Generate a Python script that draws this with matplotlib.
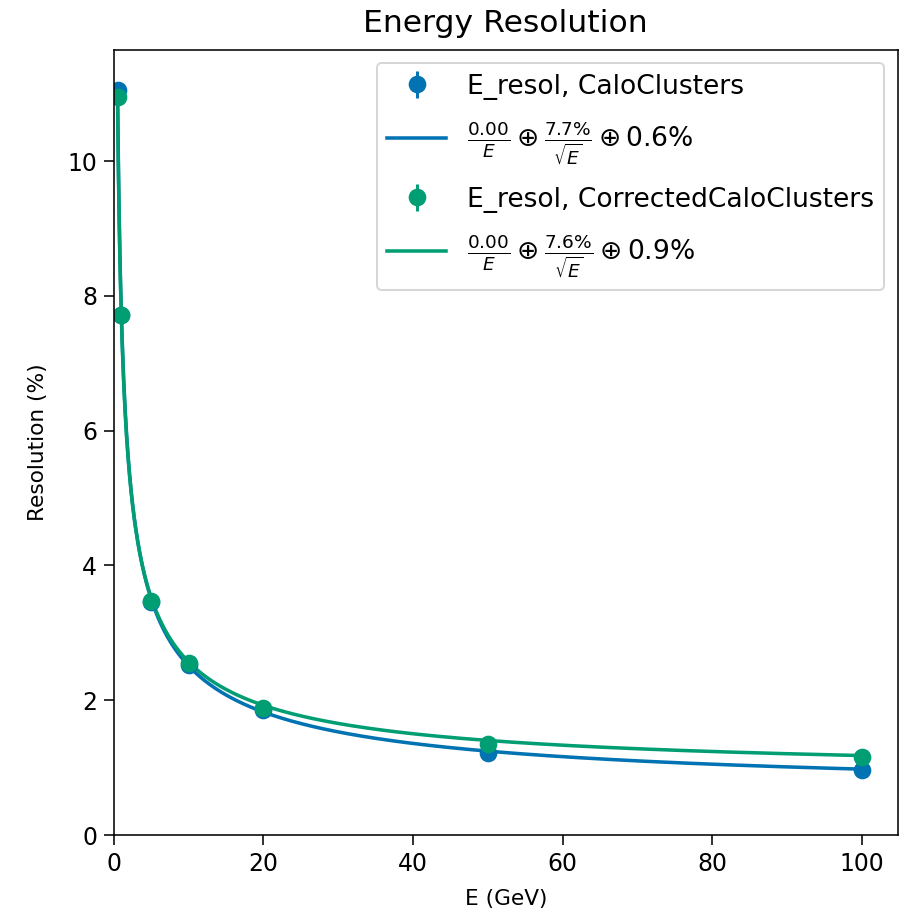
import numpy as np
import matplotlib.pyplot as plt

# energies (GeV) and measured resolution (%)
energies = [0.5, 1, 5, 10, 20, 50, 100]
resol_calo = [11.05, 7.72, 3.45, 2.52, 1.85, 1.22, 0.96]
resol_corr = [10.95, 7.72, 3.47, 2.55, 1.89, 1.35, 1.16]
err_calo = [0.08, 0.05, 0.03, 0.03, 0.02, 0.02, 0.02]
err_corr = [0.08, 0.05, 0.03, 0.03, 0.02, 0.02, 0.02]

# fit parameters: a/E (+) b/sqrt(E) (+) c
fit_calo = (0.00, 7.7, 0.6)
fit_corr = (0.00, 7.6, 0.9)

blue = '#0173b2'
green = '#029e73'


def resolution(e, a, b, c):
    return np.sqrt((a / e) ** 2 + b ** 2 / e + c ** 2)


fig = plt.figure(figsize=(6.4, 6.5), dpi=141.25)
ax = fig.add_axes([0.126, 0.0905, 0.867, 0.855])

e_line = np.linspace(0.5, 100, 1000)
handles = []
for vals, errs, fit, col, name in [(resol_calo, err_calo, fit_calo, blue, 'CaloClusters'),
                                   (resol_corr, err_corr, fit_corr, green, 'CorrectedCaloClusters')]:
    eb = ax.errorbar(energies, vals, yerr=errs, fmt='o', color=col, markersize=8,
                     label='E_resol, ' + name)
    lab = r'$\frac{%.2f}{E} \oplus \frac{%.1f\%%}{\sqrt{E}} \oplus %.1f\%%$' % fit
    ln, = ax.plot(e_line, resolution(e_line, *fit), color=col, linewidth=1.8, label=lab)
    handles += [eb, ln]

ax.set_xlim(0, 104.8)
ax.set_ylim(0, 11.65)
ax.set_title('Energy Resolution', fontsize=16, pad=9)
ax.set_xlabel('E (GeV)', fontsize=11, labelpad=7)
ax.set_ylabel('Resolution (%)', fontsize=11, labelpad=10)
ax.tick_params(labelsize=12, length=5)
ax.legend(handles=handles, loc='upper right', fontsize=13.5, labelspacing=0.75,
          handlelength=2.2)

fig.savefig('out.png')
